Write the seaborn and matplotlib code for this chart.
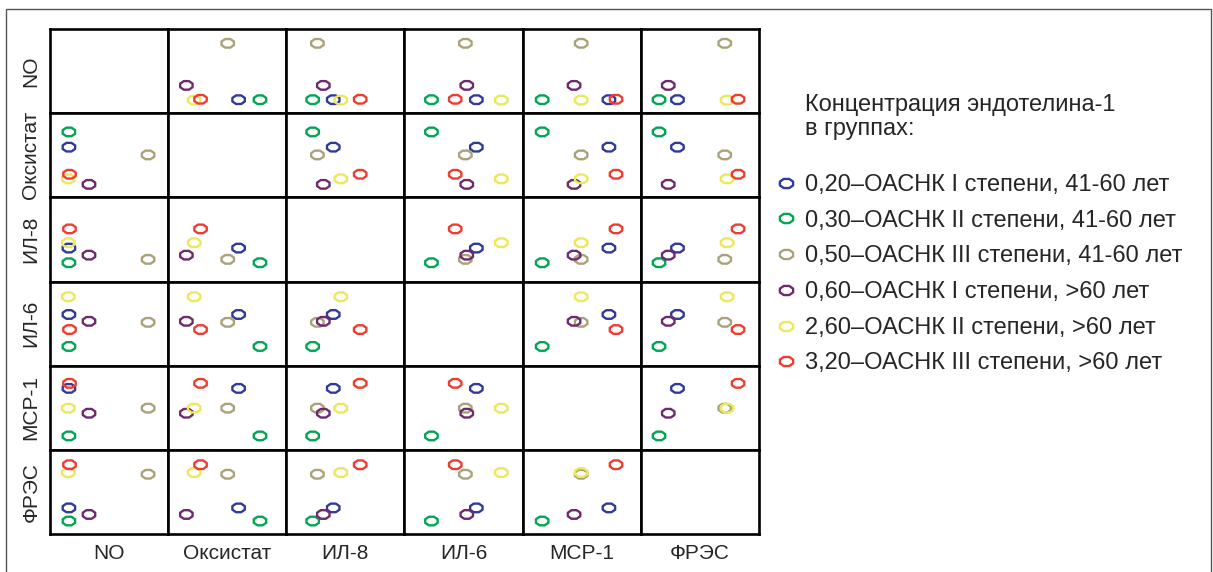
import numpy as np
import pandas as pd
import matplotlib
matplotlib.use("Agg")
import matplotlib.pyplot as plt
import seaborn as sns
from matplotlib.path import Path
from matplotlib.lines import Line2D
from matplotlib.patches import Rectangle

# группы (концентрация эндотелина-1)
groups = ["0,20\u2013ОАСНК I степени, 41-60 лет",
          "0,30\u2013ОАСНК II степени, 41-60 лет",
          "0,50\u2013ОАСНК III степени, 41-60 лет",
          "0,60\u2013ОАСНК I степени, >60 лет",
          "2,60\u2013ОАСНК II степени, >60 лет",
          "3,20\u2013ОАСНК III степени, >60 лет"]
colors = ["#2f3a9a", "#00a651", "#aaa27a", "#6e2a6c", "#ece85a", "#f03c30"]

# показатели (относительные единицы, оценка по рисунку)
variables = ["NO", "Оксистат", "ИЛ-8", "ИЛ-6", "MCP-1", "ФРЭС"]
no_vals = [16, 16, 83, 33, 15.5, 16.5]
oksistat_vals = [59.6, 77.7, 50.4, 15.4, 22, 27.4]
il8_vals = [39.7, 22.3, 26.3, 31.3, 46.1, 62.5]
il6_vals = [60.8, 22.8, 51.5, 52.7, 81.9, 42.9]
mcp1_vals = [73, 16.5, 49.5, 43.5, 49.5, 79]
fres_vals = [31, 15.4, 71, 23.2, 73, 82.3]

df = pd.DataFrame({"group": groups, "NO": no_vals, "Оксистат": oksistat_vals,
                   "ИЛ-8": il8_vals, "ИЛ-6": il6_vals, "MCP-1": mcp1_vals,
                   "ФРЭС": fres_vals})

sns.set_style("white")
plt.rcParams["font.family"] = ["Liberation Sans", "DejaVu Sans"]

# маркер - вытянутый восьмиугольник
ang = np.linspace(0, 2 * np.pi, 9)[:-1] + np.pi / 8
verts = np.column_stack([1.45 * np.cos(ang), np.sin(ang)])
mk = Path(np.vstack([verts, verts[:1]]), closed=True)

W, H = 1213, 572
fig, axes = plt.subplots(6, 6, figsize=(W / 100, H / 100), dpi=100)
fig.subplots_adjust(left=50 / W, right=759 / W, top=1 - 29 / H, bottom=1 - 534 / H,
                    wspace=0, hspace=0)

pal = dict(zip(groups, colors))
for i, vy in enumerate(variables):
    for j, vx in enumerate(variables):
        ax = axes[i, j]
        if i != j:
            sns.scatterplot(data=df, x=vx, y=vy, hue="group", palette=pal, marker=mk,
                            s=80, legend=False, ax=ax)
            for coll in ax.collections:
                fc = coll.get_facecolors()
                coll.set_edgecolors(fc)
                coll.set_facecolors("none")
                coll.set_linewidths(1.7)
        ax.set_xlim(0, 100)
        ax.set_ylim(0, 100)
        ax.set_xticks([])
        ax.set_yticks([])
        for sp in ax.spines.values():
            sp.set_color("black")
            sp.set_linewidth(1.9)
        ax.set_xlabel(vx if i == 5 else "", fontsize=15, labelpad=7)
        ax.set_ylabel(vy if j == 0 else "", fontsize=15, labelpad=7)

# легенда
fig.text(805 / W, 1 - 94 / H, "Концентрация эндотелина-1\nв группах:", fontsize=17,
         va="top", ha="left", linespacing=1.13)
handles = [Line2D([], [], ls="", marker=mk, mfc="none", mec=c, ms=9.5, mew=1.7)
           for c in colors]
fig.legend(handles, groups, loc="upper left", bbox_to_anchor=(775 / W, 1 - 174 / H),
           frameon=False, fontsize=17, handlelength=0.95, handletextpad=0.3,
           labelspacing=0.58, borderpad=0, borderaxespad=0)

# внешняя рамка
fig.add_artist(Rectangle((6 / W, -0.1), 1205 / W, 1.1 - 9 / H, transform=fig.transFigure,
                         fill=False, ec="#555555", lw=1))

plt.savefig("out.png", dpi=100)
